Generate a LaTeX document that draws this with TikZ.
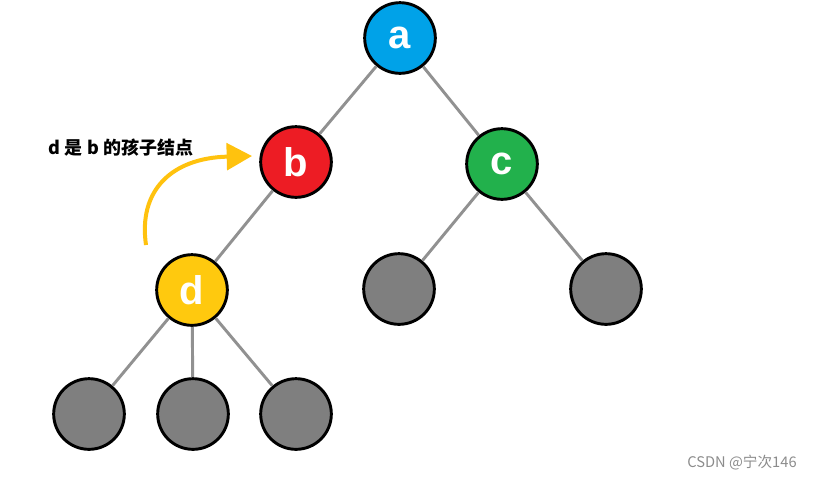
\documentclass[tikz,border=0pt]{standalone}
\usepackage{fontspec}
\setmainfont{Liberation Sans}
\newfontfamily\cjk{Noto Sans CJK SC}
\usetikzlibrary{arrows.meta, positioning}
\definecolor{paintblue}{RGB}{0,162,232}
\definecolor{paintred}{RGB}{237,28,36}
\definecolor{paintgreen}{RGB}{34,177,76}
\definecolor{paintyellow}{RGB}{255,201,14}
\definecolor{paintgray}{RGB}{127,127,127}
\definecolor{edgegray}{RGB}{145,145,145}
\definecolor{arrowyellow}{RGB}{255,194,14}

\begin{document}
\begin{tikzpicture}[
    x=0.75pt, y=-0.75pt,
    tnode/.style={circle, draw=black, line width=2.2pt, minimum size=53pt, inner sep=0pt,
                  text=white, font=\fontsize{30}{30}\selectfont\bfseries},
    leaf/.style={tnode, fill=paintgray},
    edge/.style={draw=edgegray, line width=2.2pt},
    hint/.style={-{Triangle[length=19pt, width=20pt]}, draw=arrowyellow, line width=3pt},
    lbl/.style={font=\cjk\fontsize{13.5}{13.5}\selectfont\bfseries, inner sep=0pt}
]
\useasboundingbox (0,0) rectangle (813,480);
% tree nodes
\node[tnode, fill=paintblue]   (a) at (400,38)  {a};
\node[tnode, fill=paintred]    (b) at (296,162) {b};
\node[tnode, fill=paintgreen]  (c) at (502,164) {c};
\node[tnode, fill=paintyellow] (d) at (192,290) {d};
\node[leaf] (c1) at (399,289) {};
\node[leaf] (c2) at (606,289) {};
\node[leaf] (d1) at (89,414)  {};
\node[leaf] (d2) at (193,414) {};
\node[leaf] (d3) at (296,414) {};

% edges
\draw[edge] (a) -- (b);
\draw[edge] (a) -- (c);
\draw[edge] (b) -- (d);
\draw[edge] (c) -- (c1);
\draw[edge] (c) -- (c2);
\draw[edge] (d) -- (d1);
\draw[edge] (d) -- (d2);
\draw[edge] (d) -- (d3);

% note with curved arrow
\node[lbl] (note) at (121,148) {d 是 b 的孩子结点};
\coordinate (hintstart) at (146,245);
\coordinate (hintend) at (252,156);
\draw[hint] (hintstart) .. controls (138,190) and (172,158) .. (hintend);

% watermark
\node[font=\cjk\fontsize{11}{11}\selectfont, text=paintgray!90] (mark) at (742,463) {CSDN @宁次146};
\end{tikzpicture}
\end{document}
